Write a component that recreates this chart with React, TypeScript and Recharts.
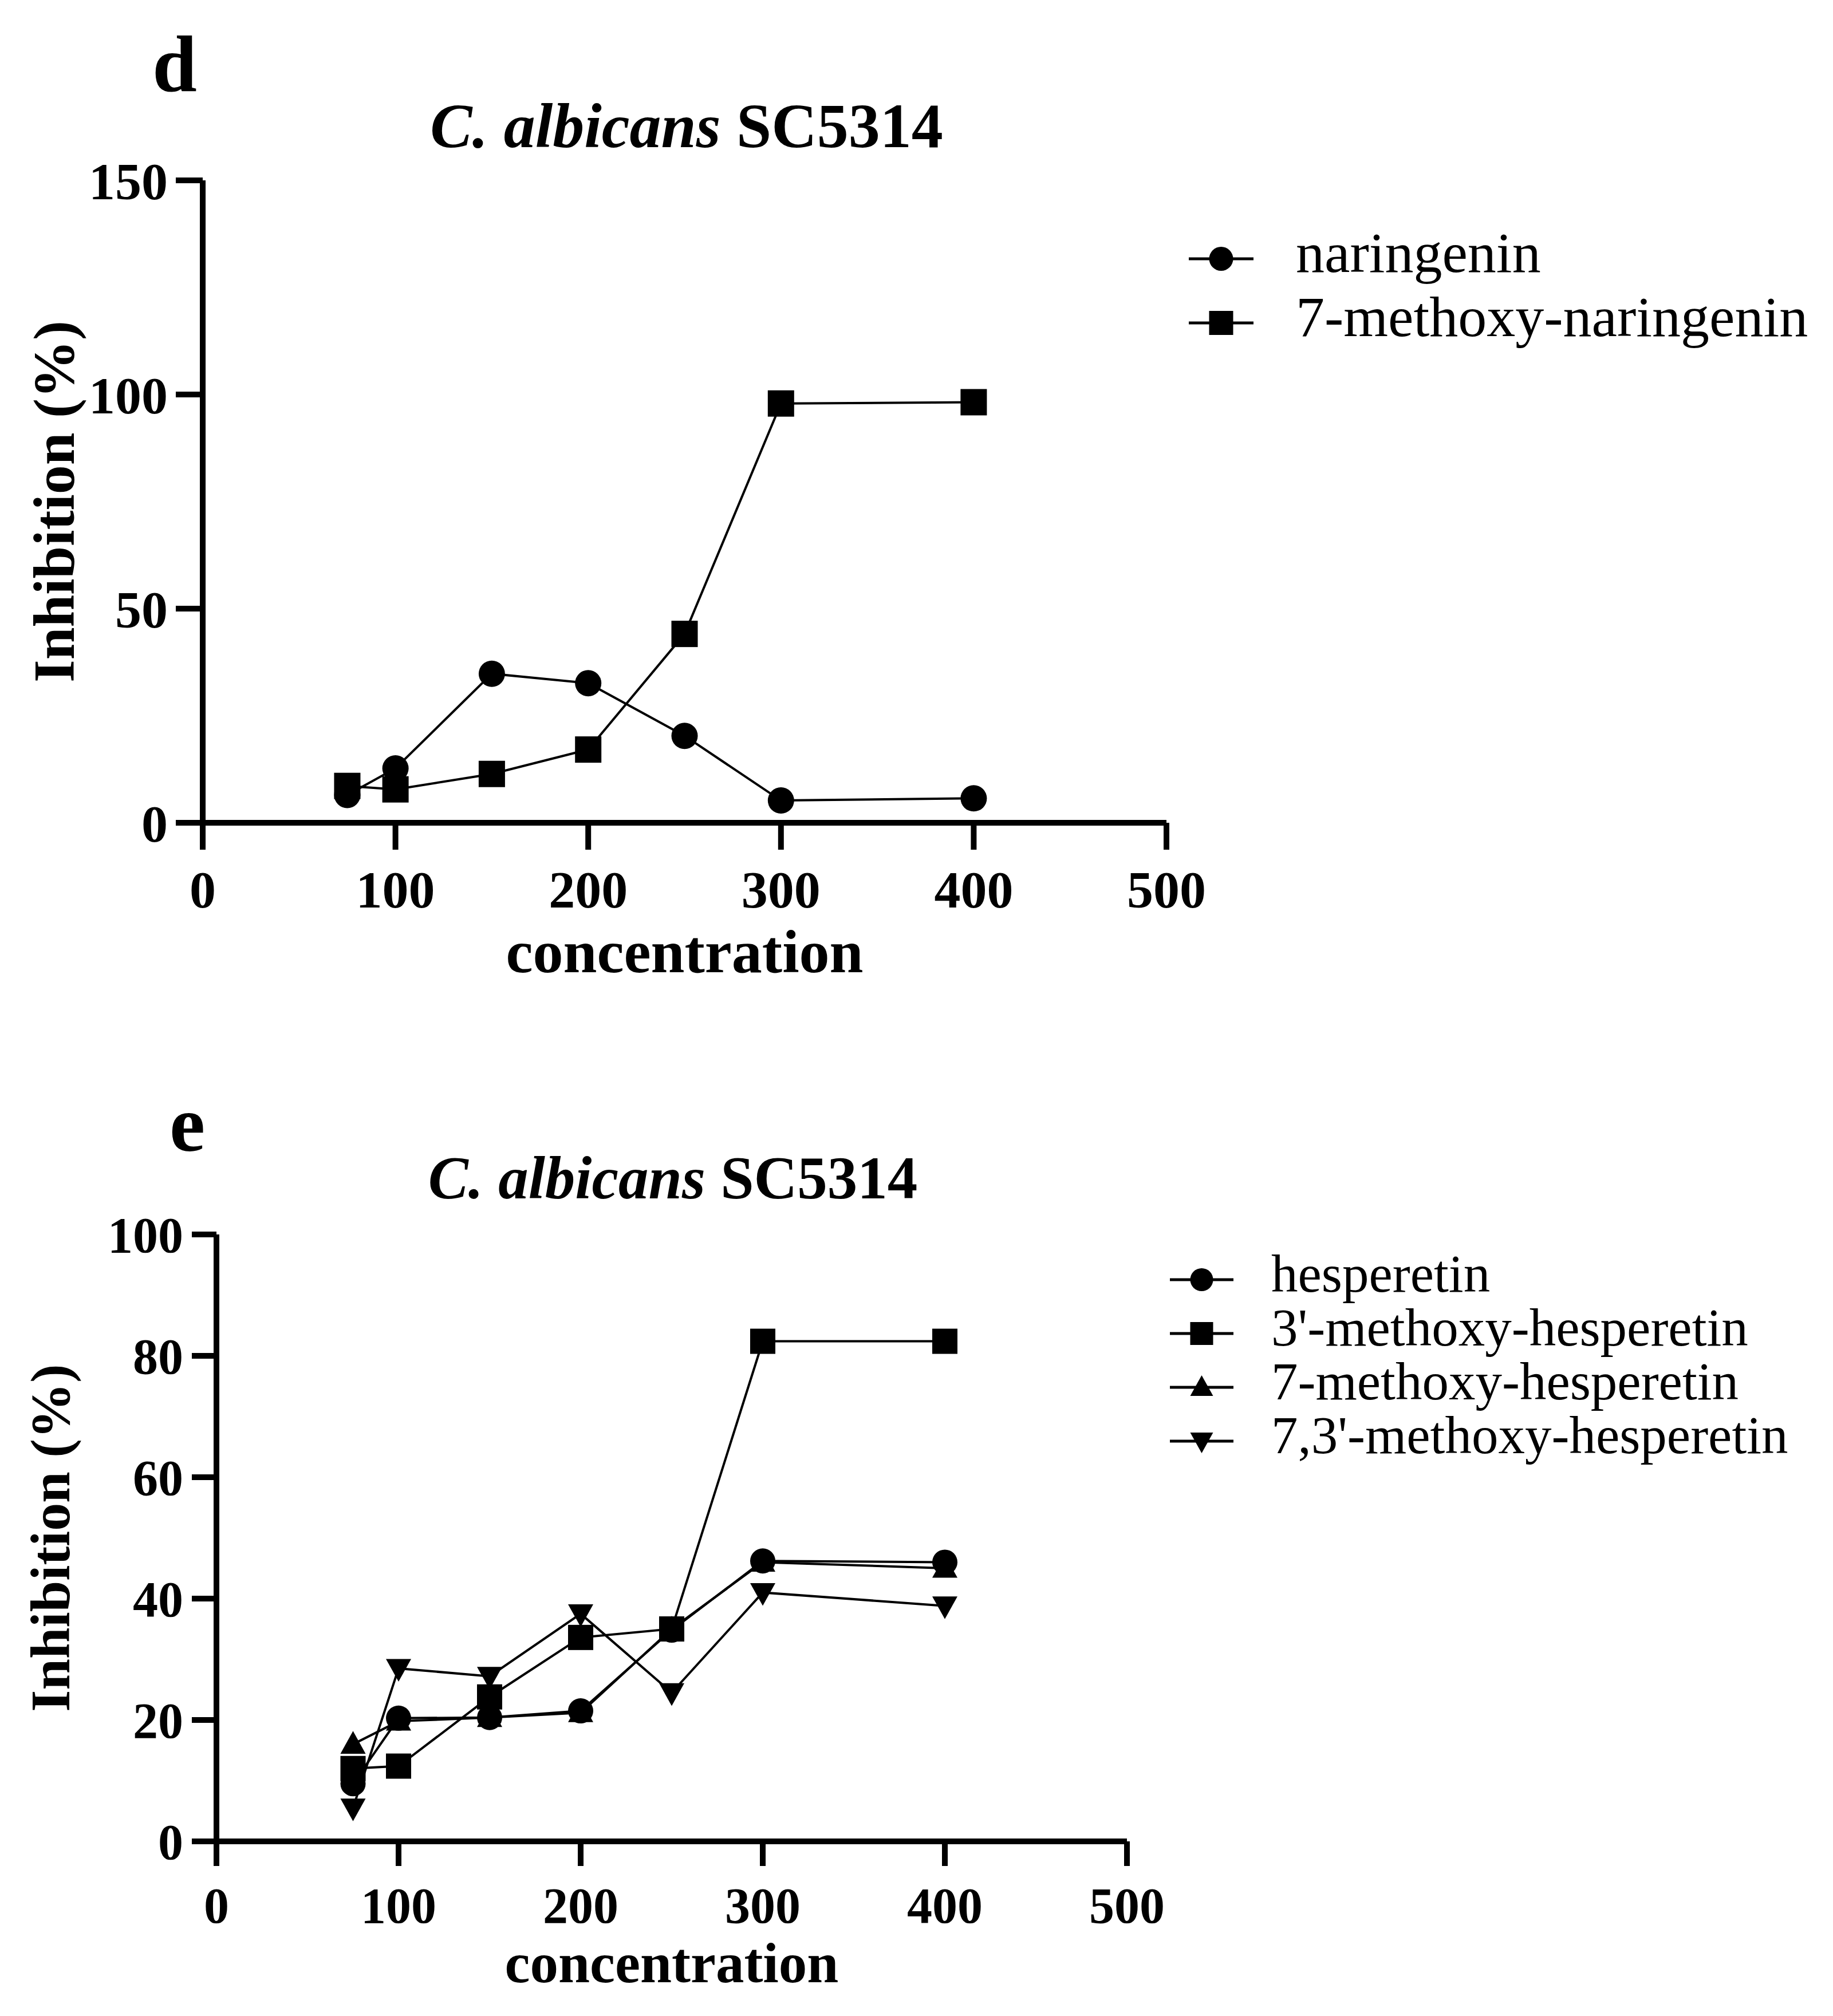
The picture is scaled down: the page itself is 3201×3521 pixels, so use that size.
import React from "react";
import { LineChart, Line, XAxis, YAxis, Legend, Label } from "recharts";

const FONT = "'Liberation Serif', 'Times New Roman', serif";

// panel d – C. albicans SC5314, naringenin series
const concD = [75, 100, 150, 200, 250, 300, 400];
const naringenin = [6.5, 12.7, 34.8, 32.6, 20.3, 5.2, 5.7];
const methoxyNaringenin = [8.6, 7.8, 11.4, 17.1, 44.1, 97.9, 98.2];
const xTicksD = [0, 100, 200, 300, 400, 500];
const yTicksD = [0, 50, 100, 150];

// panel e – C. albicans SC5314, hesperetin series
const concE = [75, 100, 150, 200, 250, 300, 400];
const hesperetin = [9.5, 20.3, 20.4, 21.5, 34.8, 46.2, 46.0];
const methoxy3 = [12.0, 12.4, 23.8, 33.6, 35.0, 82.4, 82.4];
const methoxy7 = [16.0, 19.8, 20.4, 21.2, 35.0, 46.0, 45.0];
const methoxy73 = [5.5, 28.5, 27.2, 37.5, 24.5, 41.0, 38.8];
const xTicksE = [0, 100, 200, 300, 400, 500];
const yTicksE = [0, 20, 40, 60, 80, 100];

const legendD = [
  { name: "naringenin", shape: "circle" },
  { name: "7-methoxy-naringenin", shape: "square" },
];
const legendE = [
  { name: "hesperetin", shape: "circle" },
  { name: "3'-methoxy-hesperetin", shape: "square" },
  { name: "7-methoxy-hesperetin", shape: "up" },
  { name: "7,3'-methoxy-hesperetin", shape: "down" },
];

const dataD = concD.map((c, i) => ({ conc: c, nar: naringenin[i], mnar: methoxyNaringenin[i] }));
const dataE = concE.map((c, i) => ({
  conc: c,
  hes: hesperetin[i],
  m3: methoxy3[i],
  m7: methoxy7[i],
  m73: methoxy73[i],
}));

function Marker({ shape, cx, cy, size }: { shape: string; cx: number; cy: number; size: number }) {
  const h = size / 2;
  if (shape === "circle") return <circle cx={cx} cy={cy} r={h} fill="#000" />;
  if (shape === "square") return <rect x={cx - h} y={cy - h} width={size} height={size} fill="#000" />;
  if (shape === "up")
    return <polygon points={`${cx},${cy - h * 1.05} ${cx + h},${cy + h * 0.75} ${cx - h},${cy + h * 0.75}`} fill="#000" />;
  return <polygon points={`${cx},${cy + h * 1.05} ${cx + h},${cy - h * 0.75} ${cx - h},${cy - h * 0.75}`} fill="#000" />;
}

const dotFor = (shape: string, size: number) => (props: any) => {
  const { cx, cy, index } = props;
  if (cx == null || cy == null) return <g key={`${shape}-${index}`} />;
  return (
    <g key={`${shape}-${index}`}>
      <Marker shape={shape} cx={cx} cy={cy} size={size} />
    </g>
  );
};

function LegendBox({ items, rowH, fontSize, lineLen, textX, size, width }: any) {
  return (
    <svg width={width} height={rowH * items.length} style={{ display: "block", overflow: "visible" }}>
      {items.map((it: any, i: number) => {
        const cy = rowH / 2 + i * rowH;
        return (
          <g key={it.name}>
            <line x1={0} x2={lineLen} y1={cy} y2={cy} stroke="#000" strokeWidth={5} />
            <Marker shape={it.shape} cx={lineLen / 2} cy={cy} size={size} />
            <text x={textX} y={cy + fontSize * 0.23} fontFamily={FONT} fontSize={fontSize} fill="#000">
              {it.name}
            </text>
          </g>
        );
      })}
    </svg>
  );
}

const axisStyle = { stroke: "#000", strokeWidth: 10 };

function xLabel(text: string, gap: number, fontSize: number) {
  return (props: any) => {
    const vb = props.viewBox || { x: 0, y: 0, width: 0, height: 0 };
    return (
      <text x={vb.x + vb.width / 2} y={vb.y + gap} textAnchor="middle" fontFamily={FONT} fontWeight={700} fontSize={fontSize} fill="#000">
        {text}
      </text>
    );
  };
}

function yLabel(text: string, back: number, fontSize: number) {
  return (props: any) => {
    const vb = props.viewBox || { x: 0, y: 0, width: 0, height: 0 };
    const bx = vb.x + vb.width - back;
    const cy = vb.y + vb.height / 2;
    return (
      <text transform={`translate(${bx}, ${cy}) rotate(-90)`} textAnchor="middle" fontFamily={FONT} fontWeight={700} fontSize={fontSize} fill="#000">
        {text}
      </text>
    );
  };
}

export default function App() {
  const tickD = { fill: "#000", fontSize: 92, fontWeight: 700, fontFamily: FONT };
  const tickE = { fill: "#000", fontSize: 88, fontWeight: 700, fontFamily: FONT };
  return (
    <div style={{ position: "absolute", left: 0, top: 0, width: 3201, height: 3521, background: "#fff" }}>
      <div style={{ position: "absolute", left: 0, top: 0 }}>
        <LineChart width={3201} height={1760} data={dataD} margin={{ top: 315, right: 1164, bottom: 123, left: 104 }}>
          <XAxis
            dataKey="conc"
            type="number"
            domain={[0, 500]}
            ticks={xTicksD}
            interval={0}
            height={200}
            axisLine={axisStyle}
            tickLine={axisStyle}
            tickSize={47}
            tickMargin={36}
            tick={tickD}
          >
            <Label content={xLabel("concentration", 261, 106)} />
          </XAxis>
          <YAxis
            type="number"
            domain={[0, 150]}
            ticks={yTicksD}
            interval={0}
            width={250}
            axisLine={axisStyle}
            tickLine={axisStyle}
            tickSize={47}
            tickMargin={14}
            tick={tickD}
          >
            <Label content={yLabel("Inhibition (%)", 225, 102)} />
          </YAxis>
          <Line dataKey="nar" stroke="#000" strokeWidth={4} dot={dotFor("circle", 46)} activeDot={false} isAnimationActive={false} />
          <Line dataKey="mnar" stroke="#000" strokeWidth={4} dot={dotFor("square", 46)} activeDot={false} isAnimationActive={false} />
          <Legend
            layout="vertical"
            align="center"
            verticalAlign="middle"
            wrapperStyle={{ position: "absolute", left: 2076, top: 396, width: 1120 }}
            content={() => <LegendBox items={legendD} rowH={112} fontSize={100} lineLen={113} textX={187} size={42} width={1120} />}
          />
        </LineChart>
      </div>

      <div style={{ position: "absolute", left: 0, top: 1760 }}>
        <LineChart width={3201} height={1761} data={dataE} margin={{ top: 396, right: 1233, bottom: 105, left: 128 }}>
          <XAxis
            dataKey="conc"
            type="number"
            domain={[0, 500]}
            ticks={xTicksE}
            interval={0}
            height={200}
            axisLine={axisStyle}
            tickLine={axisStyle}
            tickSize={43}
            tickMargin={37}
            tick={tickE}
          >
            <Label content={xLabel("concentration", 246, 99)} />
          </XAxis>
          <YAxis
            type="number"
            domain={[0, 100]}
            ticks={yTicksE}
            interval={0}
            width={250}
            axisLine={axisStyle}
            tickLine={axisStyle}
            tickSize={43}
            tickMargin={15}
            tick={tickE}
          >
            <Label content={yLabel("Inhibition (%)", 257, 98)} />
          </YAxis>
          <Line dataKey="m7" stroke="#000" strokeWidth={4} dot={dotFor("up", 44)} activeDot={false} isAnimationActive={false} />
          <Line dataKey="m73" stroke="#000" strokeWidth={4} dot={dotFor("down", 44)} activeDot={false} isAnimationActive={false} />
          <Line dataKey="m3" stroke="#000" strokeWidth={4} dot={dotFor("square", 44)} activeDot={false} isAnimationActive={false} />
          <Line dataKey="hes" stroke="#000" strokeWidth={4} dot={dotFor("circle", 44)} activeDot={false} isAnimationActive={false} />
          <Legend
            layout="vertical"
            align="center"
            verticalAlign="middle"
            wrapperStyle={{ position: "absolute", left: 2043, top: 428, width: 1150 }}
            content={() => <LegendBox items={legendE} rowH={94} fontSize={93} lineLen={111} textX={177} size={40} width={1150} />}
          />
        </LineChart>
      </div>

      <svg width={3201} height={3521} style={{ position: "absolute", left: 0, top: 0, pointerEvents: "none" }}>
        <text x={266} y={159} fontFamily={FONT} fontWeight={700} fontSize={140} fill="#000">d</text>
        <text x={1199} y={257} textAnchor="middle" fontFamily={FONT} fontWeight={700} fontSize={110} fill="#000">
          <tspan fontStyle="italic">C. albicans</tspan>
          <tspan> SC5314</tspan>
        </text>
        <text x={296} y={2010} fontFamily={FONT} fontWeight={700} fontSize={140} fill="#000">e</text>
        <text x={1175} y={2093} textAnchor="middle" fontFamily={FONT} fontWeight={700} fontSize={105} fill="#000">
          <tspan fontStyle="italic">C. albicans</tspan>
          <tspan> SC5314</tspan>
        </text>
      </svg>
    </div>
  );
}
